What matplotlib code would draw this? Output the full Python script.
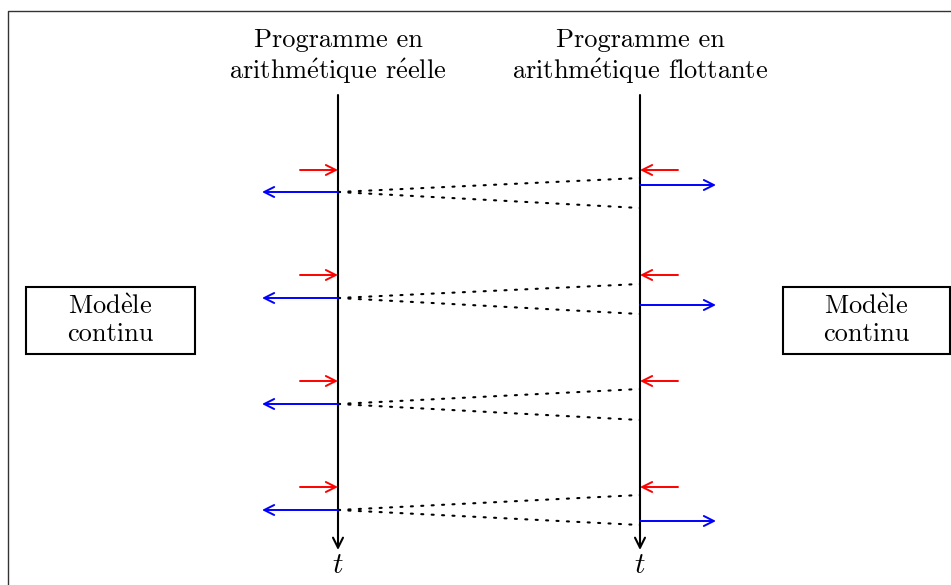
import matplotlib
matplotlib.use("Agg")
import matplotlib.pyplot as plt
from matplotlib.patches import Rectangle

plt.rcParams['font.family'] = ['cmr10', 'DejaVu Serif']
plt.rcParams['mathtext.fontset'] = 'cm'

# accented letters are drawn with mathtext so they stay in Computer Modern
E_ACUTE = r"$\mathrm{\acute{e}}$"
E_GRAVE = r"$\mathrm{\grave{e}}$"

# --- diagram data (pixel coordinates, y downward) ---
timeline_x = [338, 640]
timeline_top = 95
timeline_bottom = 550
titles = ["Programme en\narithm" + E_ACUTE + "tique r" + E_ACUTE + "elle",
          "Programme en\narithm" + E_ACUTE + "tique flottante"]

red_y = [170, 275, 381, 487]          # incoming arrows on both timelines
blue_left_y = [192, 298, 404, 510]    # outgoing arrows from the real program
blue_right_y = [185, 305, None, 521]  # outgoing arrows from the float program
dot_upper_y = [178, 284, 389, 495]    # dotted link endpoints on the float side
dot_lower_y = [208, 314, 420, 525]

boxes = [(26, 287, 169, 67), (783, 287, 167, 67)]
box_label = "Mod" + E_GRAVE + "le\ncontinu"

RED = "#ff0000"
BLUE = "#0000ff"

fig = plt.figure(figsize=(9.51, 5.85), dpi=100)
ax = fig.add_axes([0, 0, 1, 1])
ax.set_xlim(0, 951)
ax.set_ylim(585, 0)
ax.axis('off')

# outer frame (cut by the image edges)
ax.plot([8, 8, 951], [585, 11, 11], color="#333333", lw=1.0)


def arrow(x0, y0, x1, y1, color, lw=1.4):
    ax.annotate('', xy=(x1, y1), xytext=(x0, y0),
                arrowprops=dict(arrowstyle='->', color=color, lw=lw,
                                shrinkA=0, shrinkB=0, mutation_scale=18))


# timelines
for x, title in zip(timeline_x, titles):
    arrow(x, timeline_top, x, timeline_bottom, 'black', lw=1.5)
    ax.text(x, 57, title, ha='center', va='center', fontsize=19,
            linespacing=1.2)
    ax.text(x, 566, '$t$', ha='center', va='center', fontsize=21)

xl, xr = timeline_x
for i in range(len(red_y)):
    # red incoming
    arrow(xl - 38, red_y[i], xl, red_y[i], RED)
    arrow(xr + 38, red_y[i], xr, red_y[i], RED)
    # blue outgoing
    arrow(xl, blue_left_y[i], xl - 76, blue_left_y[i], BLUE)
    if blue_right_y[i] is not None:
        arrow(xr, blue_right_y[i], xr + 76, blue_right_y[i], BLUE)
    # dotted links
    for yend in (dot_upper_y[i], dot_lower_y[i]):
        ax.plot([xl, xr], [blue_left_y[i], yend], color='black', lw=1.5,
                linestyle=(0, (1, 4)), dash_capstyle='round')

# boxes
for bx, by, bw, bh in boxes:
    ax.add_patch(Rectangle((bx, by), bw, bh, fill=False, edgecolor='black',
                           lw=1.5))
    ax.text(bx + bw / 2, by + bh / 2, box_label, ha='center', va='center',
            fontsize=19, linespacing=1.2)

fig.savefig('out.png', dpi=100)
